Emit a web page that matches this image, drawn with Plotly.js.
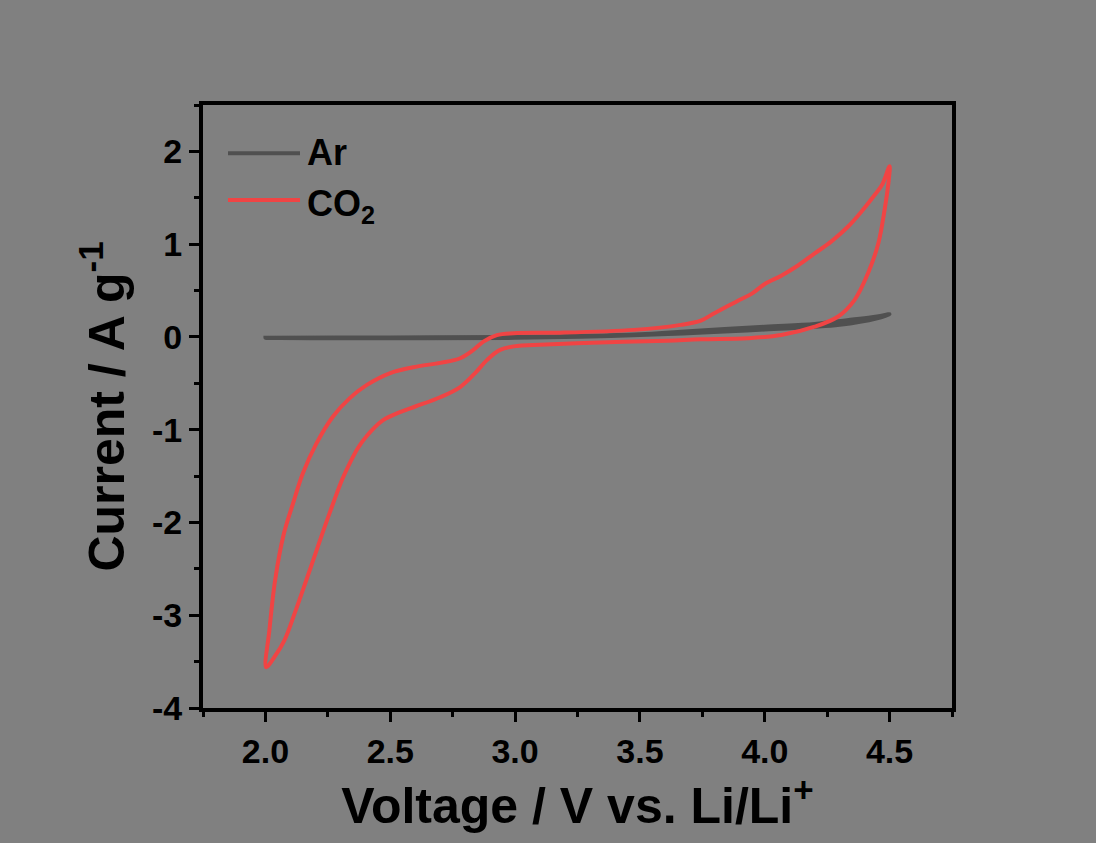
<!DOCTYPE html>
<html>
<head>
<meta charset="utf-8">
<script src="https://cdn.plot.ly/plotly-3.0.1.min.js"></script>
<style>html,body{margin:0;padding:0;background:#808080;}</style>
</head>
<body>
<div id="chart" style="width:1096px;height:843px;"></div>
<script>
// CO2 cyclic voltammogram (loop: anodic sweep from 3.18 V to 4.5 V, cathodic sweep to 2.0 V, back up to 3.18 V)
const co2Voltage = [3.18, 3.476, 3.664, 3.744, 3.798, 3.85, 3.90, 3.95, 4.00, 4.066, 4.133, 4.20, 4.267, 4.334, 4.39, 4.44, 4.47, 4.50,
  4.497, 4.48, 4.455, 4.414, 4.36, 4.294, 4.20, 4.066, 3.932, 3.744, 3.61, 3.34, 3.074, 3.008, 2.94, 2.887, 2.84, 2.78, 2.70, 2.60, 2.539, 2.47, 2.405, 2.37, 2.338, 2.307, 2.257, 2.21, 2.164, 2.117, 2.076, 2.036, 2.003,
  2.016, 2.039, 2.074, 2.11, 2.15, 2.204, 2.27, 2.338, 2.405, 2.50, 2.606, 2.70, 2.78, 2.833, 2.873, 2.927, 2.994, 3.18];
const co2Current = [0.046, 0.076, 0.13, 0.176, 0.256, 0.33, 0.40, 0.47, 0.57, 0.66, 0.77, 0.90, 1.03, 1.19, 1.36, 1.53, 1.64, 1.84,
  1.70, 1.37, 1.01, 0.69, 0.40, 0.22, 0.11, 0.02, -0.014, -0.025, -0.04, -0.06, -0.086, -0.097, -0.14, -0.25, -0.39, -0.54, -0.65, -0.75, -0.81, -0.90, -1.07, -1.20, -1.36, -1.54, -1.90, -2.26, -2.62, -2.98, -3.27, -3.45, -3.56,
  -3.16, -2.62, -2.12, -1.80, -1.47, -1.15, -0.86, -0.66, -0.52, -0.39, -0.32, -0.28, -0.23, -0.14, -0.05, 0.02, 0.04, 0.046];

// Ar cyclic voltammogram
const arVoltage = [3.0, 3.5, 3.664, 4.0, 4.2, 4.33, 4.45, 4.5, 4.45, 4.3, 4.0, 3.5, 3.0, 2.5, 2.0, 2.5, 3.0];
const arCurrent = [0.0, 0.03, 0.057, 0.11, 0.14, 0.18, 0.22, 0.245, 0.20, 0.13, 0.08, 0.02, -0.01, -0.015, -0.01, -0.005, 0.0];

const seriesNames = ['Ar', 'CO<sub>2</sub>'];
const seriesColors = ['#505050', '#F04444'];

const xTickVals = [2.0, 2.5, 3.0, 3.5, 4.0, 4.5];
const xTickText = ['2.0', '2.5', '3.0', '3.5', '4.0', '4.5'];
const yTickVals = [-4, -3, -2, -1, 0, 1, 2];
const yTickText = ['-4', '-3', '-2', '-1', '0', '1', '2'];

const FONT = 'Liberation Sans, Arial, sans-serif';

const traces = [
  {x: arVoltage, y: arCurrent, mode: 'lines', name: seriesNames[0],
   line: {color: seriesColors[0], width: 4, shape: 'spline', smoothing: 1}, showlegend: false},
  {x: co2Voltage, y: co2Current, mode: 'lines', name: seriesNames[1],
   line: {color: seriesColors[1], width: 4, shape: 'spline', smoothing: 1}, showlegend: false}
];

const axisCommon = {
  showline: true, linecolor: 'black', linewidth: 4, mirror: true,
  ticks: 'outside', ticklen: 10, tickwidth: 3, tickcolor: 'black',
  showgrid: false, zeroline: false,
  tickfont: {family: FONT, size: 34, color: 'black', weight: 'bold'}
};

const layout = {
  width: 1096, height: 843,
  paper_bgcolor: '#808080', plot_bgcolor: '#808080',
  margin: {l: 203, r: 144, t: 105, b: 135},
  showlegend: false,
  xaxis: Object.assign({}, axisCommon, {
    range: [1.75, 4.75], tickmode: 'array', tickvals: xTickVals, ticktext: xTickText,
    minor: {tickmode: 'linear', tick0: 1.75, dtick: 0.25, ticks: 'outside', ticklen: 5, tickwidth: 3, tickcolor: 'black'},
    title: {text: 'Voltage / V vs. Li/Li<sup>+</sup>', standoff: 16,
            font: {family: FONT, size: 50, color: 'black', weight: 'bold'}}
  }),
  yaxis: Object.assign({}, axisCommon, {
    range: [-4, 2.5], tickmode: 'array', tickvals: yTickVals, ticktext: yTickText,
    minor: {tickmode: 'linear', tick0: -4, dtick: 0.5, ticks: 'outside', ticklen: 5, tickwidth: 3, tickcolor: 'black'},
    title: {text: 'Current / A g<sup>-1</sup>', standoff: 12,
            font: {family: FONT, size: 50, color: 'black', weight: 'bold'}}
  }),
  shapes: [
    {type: 'line', xref: 'paper', yref: 'paper', x0: 0.0334, x1: 0.1295, y0: 0.920, y1: 0.920,
     line: {color: seriesColors[0], width: 4}},
    {type: 'line', xref: 'paper', yref: 'paper', x0: 0.0334, x1: 0.1295, y0: 0.8425, y1: 0.8425,
     line: {color: seriesColors[1], width: 4}}
  ],
  annotations: [
    {xref: 'paper', yref: 'paper', x: 0.1360, y: 0.922, xanchor: 'left', yanchor: 'middle', showarrow: false,
     text: seriesNames[0], font: {family: FONT, size: 36, color: 'black', weight: 'bold'}},
    {xref: 'paper', yref: 'paper', x: 0.1360, y: 0.833, xanchor: 'left', yanchor: 'middle', showarrow: false,
     text: seriesNames[1], font: {family: FONT, size: 36, color: 'black', weight: 'bold'}}
  ]
};

Plotly.newPlot('chart', traces, layout, {displayModeBar: false, staticPlot: true});
</script>
</body>
</html>
